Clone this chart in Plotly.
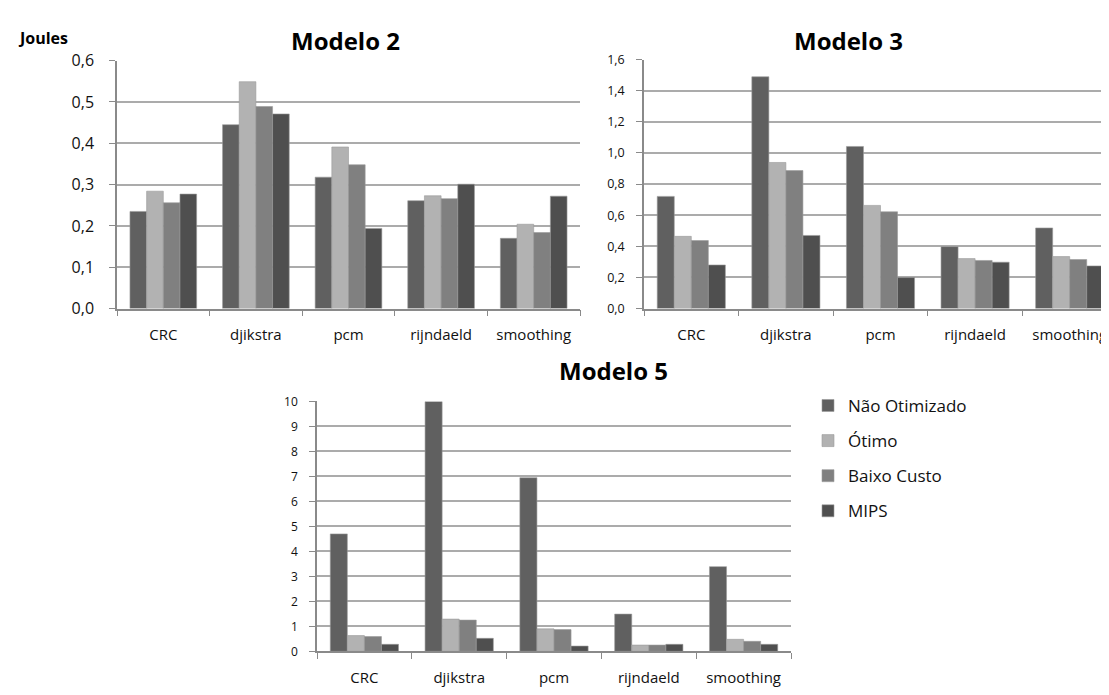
import plotly.graph_objects as go

categories = ["CRC", "djikstra", "pcm", "rijndaeld", "smoothing"]
series_names = ["Não Otimizado", "Ótimo", "Baixo Custo", "MIPS"]
series_colors = ["#606060", "#b2b2b2", "#808080", "#4f4f4f"]

# Modelo 2 (Joules)
m2_nao_otimizado = [0.235, 0.445, 0.318, 0.261, 0.170]
m2_otimo = [0.284, 0.549, 0.391, 0.273, 0.204]
m2_baixo_custo = [0.256, 0.489, 0.348, 0.266, 0.184]
m2_mips = [0.277, 0.471, 0.194, 0.301, 0.272]

# Modelo 3
m3_nao_otimizado = [0.721, 1.490, 1.042, 0.398, 0.518]
m3_otimo = [0.464, 0.939, 0.663, 0.321, 0.334]
m3_baixo_custo = [0.437, 0.887, 0.622, 0.309, 0.315]
m3_mips = [0.280, 0.470, 0.199, 0.298, 0.274]

# Modelo 5
m5_nao_otimizado = [4.70, 10.0, 6.95, 1.49, 3.39]
m5_otimo = [0.63, 1.29, 0.90, 0.25, 0.48]
m5_baixo_custo = [0.59, 1.25, 0.87, 0.25, 0.40]
m5_mips = [0.28, 0.52, 0.21, 0.28, 0.28]

models = [
    ("x", "y", [m2_nao_otimizado, m2_otimo, m2_baixo_custo, m2_mips], True),
    ("x2", "y2", [m3_nao_otimizado, m3_otimo, m3_baixo_custo, m3_mips], False),
    ("x3", "y3", [m5_nao_otimizado, m5_otimo, m5_baixo_custo, m5_mips], False),
]

FONT = "Open Sans"
W, H = 1109, 695

fig = go.Figure()
for xa, ya, vals, show in models:
    for name, color, v in zip(series_names, series_colors, vals):
        fig.add_trace(go.Bar(
            x=categories, y=v, name=name, xaxis=xa, yaxis=ya,
            marker=dict(color=color, line=dict(color="#9a9a9a", width=0.6)),
            showlegend=show, legendgroup=name,
        ))

def px_x(a, b):
    return [a / W, b / W]

def px_y(top, bottom):
    return [1 - bottom / H, 1 - top / H]

grid = "#ababab"
axcol = "#8a8a8a"

xcommon = dict(type="category", showgrid=False, showline=True, linecolor=axcol, linewidth=1.5,
               ticks="outside", tickson="boundaries", ticklen=6, tickcolor=axcol, tickwidth=1.2,
               tickfont=dict(family=FONT, size=15, color="#111"), ticklabelstandoff=12,
               fixedrange=True)
ycommon = dict(showgrid=True, gridcolor=grid, gridwidth=1.5, showline=True, linecolor=axcol,
               linewidth=1.5, ticks="outside", ticklen=6, tickcolor=axcol, zeroline=False,
               fixedrange=True)

fig.update_layout(
    width=W, height=H,
    margin=dict(l=0, r=0, t=0, b=0),
    paper_bgcolor="white", plot_bgcolor="white",
    separators=",.",
    barmode="group", bargap=0.28, bargroupgap=0.0,
    font=dict(family=FONT, color="#111"),
    xaxis=dict(domain=px_x(109, 572), anchor="y", **xcommon),
    yaxis=dict(domain=px_y(43, 299), anchor="x", range=[0, 0.6], dtick=0.1, tickformat=".1f",
               tickfont=dict(family=FONT, size=16, color="#111"), ticklabelstandoff=12, **ycommon),
    xaxis2=dict(domain=px_x(636, 1109), anchor="y2", **xcommon),
    yaxis2=dict(domain=px_y(42, 299), anchor="x2", range=[0, 1.6], dtick=0.2, tickformat=".1f",
                tickfont=dict(family=FONT, size=12.5, color="#111"), ticklabelstandoff=9, **ycommon),
    xaxis3=dict(domain=px_x(309, 783), anchor="y3", **xcommon),
    yaxis3=dict(domain=px_y(395, 653), anchor="x3", range=[0, 10], dtick=1,
                tickfont=dict(family=FONT, size=12, color="#111"), ticklabelstandoff=9, **ycommon),
    legend=dict(x=800 / W, y=1 - 381 / H, xanchor="left", yanchor="top",
                font=dict(family=FONT, size=17, color="#111"), tracegroupgap=10,
                itemwidth=30, bgcolor="rgba(0,0,0,0)"),
    annotations=[
        dict(text="<b>Modelo 2</b>", x=337 / W, y=1 - 22 / H, xref="paper", yref="paper",
             showarrow=False, font=dict(family=FONT, size=24, color="#000"), xanchor="center", yanchor="middle"),
        dict(text="<b>Modelo 3</b>", x=840 / W, y=1 - 22 / H, xref="paper", yref="paper",
             showarrow=False, font=dict(family=FONT, size=24, color="#000"), xanchor="center", yanchor="middle"),
        dict(text="<b>Modelo 5</b>", x=605 / W, y=1 - 363 / H, xref="paper", yref="paper",
             showarrow=False, font=dict(family=FONT, size=24, color="#000"), xanchor="center", yanchor="middle"),
        dict(text="<b>Joules</b>", x=8 / W, y=1 - 20 / H, xref="paper", yref="paper",
             showarrow=False, font=dict(family=FONT, size=16, color="#000"), xanchor="left", yanchor="middle"),
    ],
)

fig.write_html("out.html")
